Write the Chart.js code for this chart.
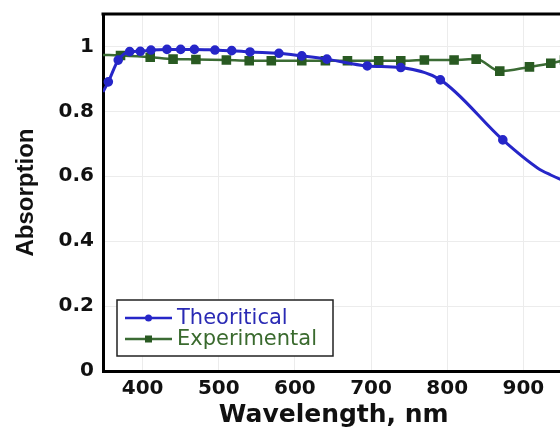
<!DOCTYPE html>
<html>
<head>
<meta charset="utf-8">
<script src="https://cdn.jsdelivr.net/npm/chart.js@4/dist/chart.umd.min.js"></script>
<style>
  html, body { margin: 0; padding: 0; background: #fff; overflow: hidden; }
  #wrap { width: 572px; height: 437px; }
</style>
</head>
<body>
<div id="wrap"><canvas id="c"></canvas></div>
<script>
// Simulated absorption spectrum (blue, circles)
const wavelengthTheory = [348, 355, 368, 383, 397, 411, 432, 450, 468, 495, 517, 541, 579, 609, 642, 695, 739, 791, 873, 919, 936, 954];
const absorptionTheory = [0.860, 0.891, 0.958, 0.984, 0.985, 0.989, 0.991, 0.991, 0.991, 0.989, 0.987, 0.983, 0.979, 0.971, 0.961, 0.940, 0.935, 0.897, 0.712, 0.625, 0.604, 0.585];

// Measured absorption (green, squares)
const wavelengthExp = [348, 371, 410, 440, 470, 510, 540, 569, 609, 640, 669, 710, 739, 770, 809, 838, 869, 908, 936, 954];
const absorptionExp = [0.974, 0.972, 0.967, 0.961, 0.960, 0.958, 0.956, 0.956, 0.956, 0.956, 0.956, 0.956, 0.956, 0.958, 0.958, 0.961, 0.924, 0.937, 0.948, 0.958];

const seriesNames = ['Theoritical', 'Experimental'];
const xTickValues = [400, 500, 600, 700, 800, 900];
const yTickValues = [0, 0.2, 0.4, 0.6, 0.8, 1];

const BLUE = '#2626c8';
const GREEN = '#3b6b34';
const GREEN_DARK = '#295a22';
const WIDE = '"DejaVu Sans", Verdana, sans-serif';
const NARROW = '"Liberation Sans", Arial, sans-serif';

const toPoints = (xs, ys) => xs.map((x, i) => ({ x: x, y: ys[i] }));
// samples without a marker: the one on the y axis, and the densely sampled
// tail of the simulated curve
const markerSize = (r, skip) => ctx => (skip.includes(ctx.dataIndex) ? 0 : r);

// Top frame line and the boxed legend inside the plot
const framePlugin = {
  id: 'frame',
  afterDraw(chart) {
    const { ctx, chartArea } = chart;
    ctx.save();
    ctx.strokeStyle = '#000';
    ctx.lineWidth = 3;
    ctx.beginPath();
    ctx.moveTo(chartArea.left - 1.5, chartArea.top);
    ctx.lineTo(chartArea.right, chartArea.top);
    ctx.stroke();

    // legend box
    const bx = 117, by = 300, bw = 216, bh = 56;
    ctx.fillStyle = '#fff';
    ctx.fillRect(bx, by, bw, bh);
    ctx.strokeStyle = '#222';
    ctx.lineWidth = 1.5;
    ctx.strokeRect(bx, by, bw, bh);

    ctx.font = '21px ' + WIDE;
    ctx.textBaseline = 'middle';
    ctx.textAlign = 'left';
    chart.data.datasets.forEach((ds, i) => {
      const cy = by + 18 + i * 21;
      ctx.strokeStyle = ds.borderColor;
      ctx.lineWidth = 2.5;
      ctx.beginPath();
      ctx.moveTo(125, cy);
      ctx.lineTo(172, cy);
      ctx.stroke();
      ctx.fillStyle = ds.pointBackgroundColor;
      if (ds.pointStyle === 'rect') {
        ctx.fillRect(145, cy - 3.5, 7, 7);
      } else {
        ctx.beginPath();
        ctx.arc(148.5, cy, 3.5, 0, Math.PI * 2);
        ctx.fill();
      }
      ctx.fillStyle = ds.legendTextColor;
      ctx.fillText(ds.label, 177, cy + 1);
    });
    ctx.restore();
  }
};

new Chart(document.getElementById('c'), {
  type: 'line',
  data: {
    datasets: [
      {
        label: seriesNames[0],
        data: toPoints(wavelengthTheory, absorptionTheory),
        borderColor: BLUE,
        backgroundColor: BLUE,
        pointBackgroundColor: BLUE,
        pointBorderColor: BLUE,
        legendTextColor: '#2a2ab4',
        borderWidth: 3,
        pointRadius: markerSize(3.3, [0, 19, 20, 21]),
        pointStyle: 'circle',
        cubicInterpolationMode: 'monotone',
        fill: false
      },
      {
        label: seriesNames[1],
        data: toPoints(wavelengthExp, absorptionExp),
        borderColor: GREEN,
        backgroundColor: GREEN_DARK,
        pointBackgroundColor: GREEN_DARK,
        pointBorderColor: GREEN_DARK,
        legendTextColor: '#3a6a2e',
        borderWidth: 2.5,
        pointRadius: markerSize(5, [0]),
        pointStyle: 'rect',
        cubicInterpolationMode: 'monotone',
        fill: false
      }
    ]
  },
  options: {
    responsive: true,
    maintainAspectRatio: false,
    animation: false,
    layout: { padding: { top: 14, right: 0, bottom: 0, left: 0 } },
    plugins: {
      legend: { display: false },
      tooltip: { enabled: false }
    },
    scales: {
      x: {
        type: 'linear',
        min: 348,
        max: 954,
        afterBuildTicks(scale) { scale.ticks = xTickValues.map(v => ({ value: v })); },
        afterFit(scale) { scale.height = 66; },
        ticks: {
          color: '#111',
          font: { family: WIDE, size: 20, weight: 'bold' },
          padding: 6,
          maxRotation: 0,
          callback: v => String(v)
        },
        grid: { color: '#ececec', lineWidth: 1, drawTicks: false },
        border: { color: '#000', width: 3 },
        title: {
          display: true,
          text: 'Wavelength, nm',
          color: '#111',
          font: { family: WIDE, size: 25, weight: 'bold' },
          padding: { top: 0, bottom: 7 }
        }
      },
      y: {
        type: 'linear',
        min: 0,
        max: 1.1,
        afterBuildTicks(scale) { scale.ticks = yTickValues.map(v => ({ value: v })); },
        afterFit(scale) { scale.width = 103; },
        ticks: {
          color: '#111',
          font: { family: WIDE, size: 20, weight: 'bold', lineHeight: 0.5 },
          padding: 9,
          callback: v => (v === 0 || v === 1) ? String(v) : v.toFixed(1)
        },
        grid: { color: '#ececec', lineWidth: 1, drawTicks: false },
        border: { color: '#000', width: 3 },
        title: {
          display: true,
          text: 'Absorption',
          color: '#111',
          font: { family: NARROW, size: 24, weight: 'bold' },
          padding: { top: 12, bottom: 0 }
        }
      }
    }
  },
  plugins: [framePlugin]
});
</script>
</body>
</html>
